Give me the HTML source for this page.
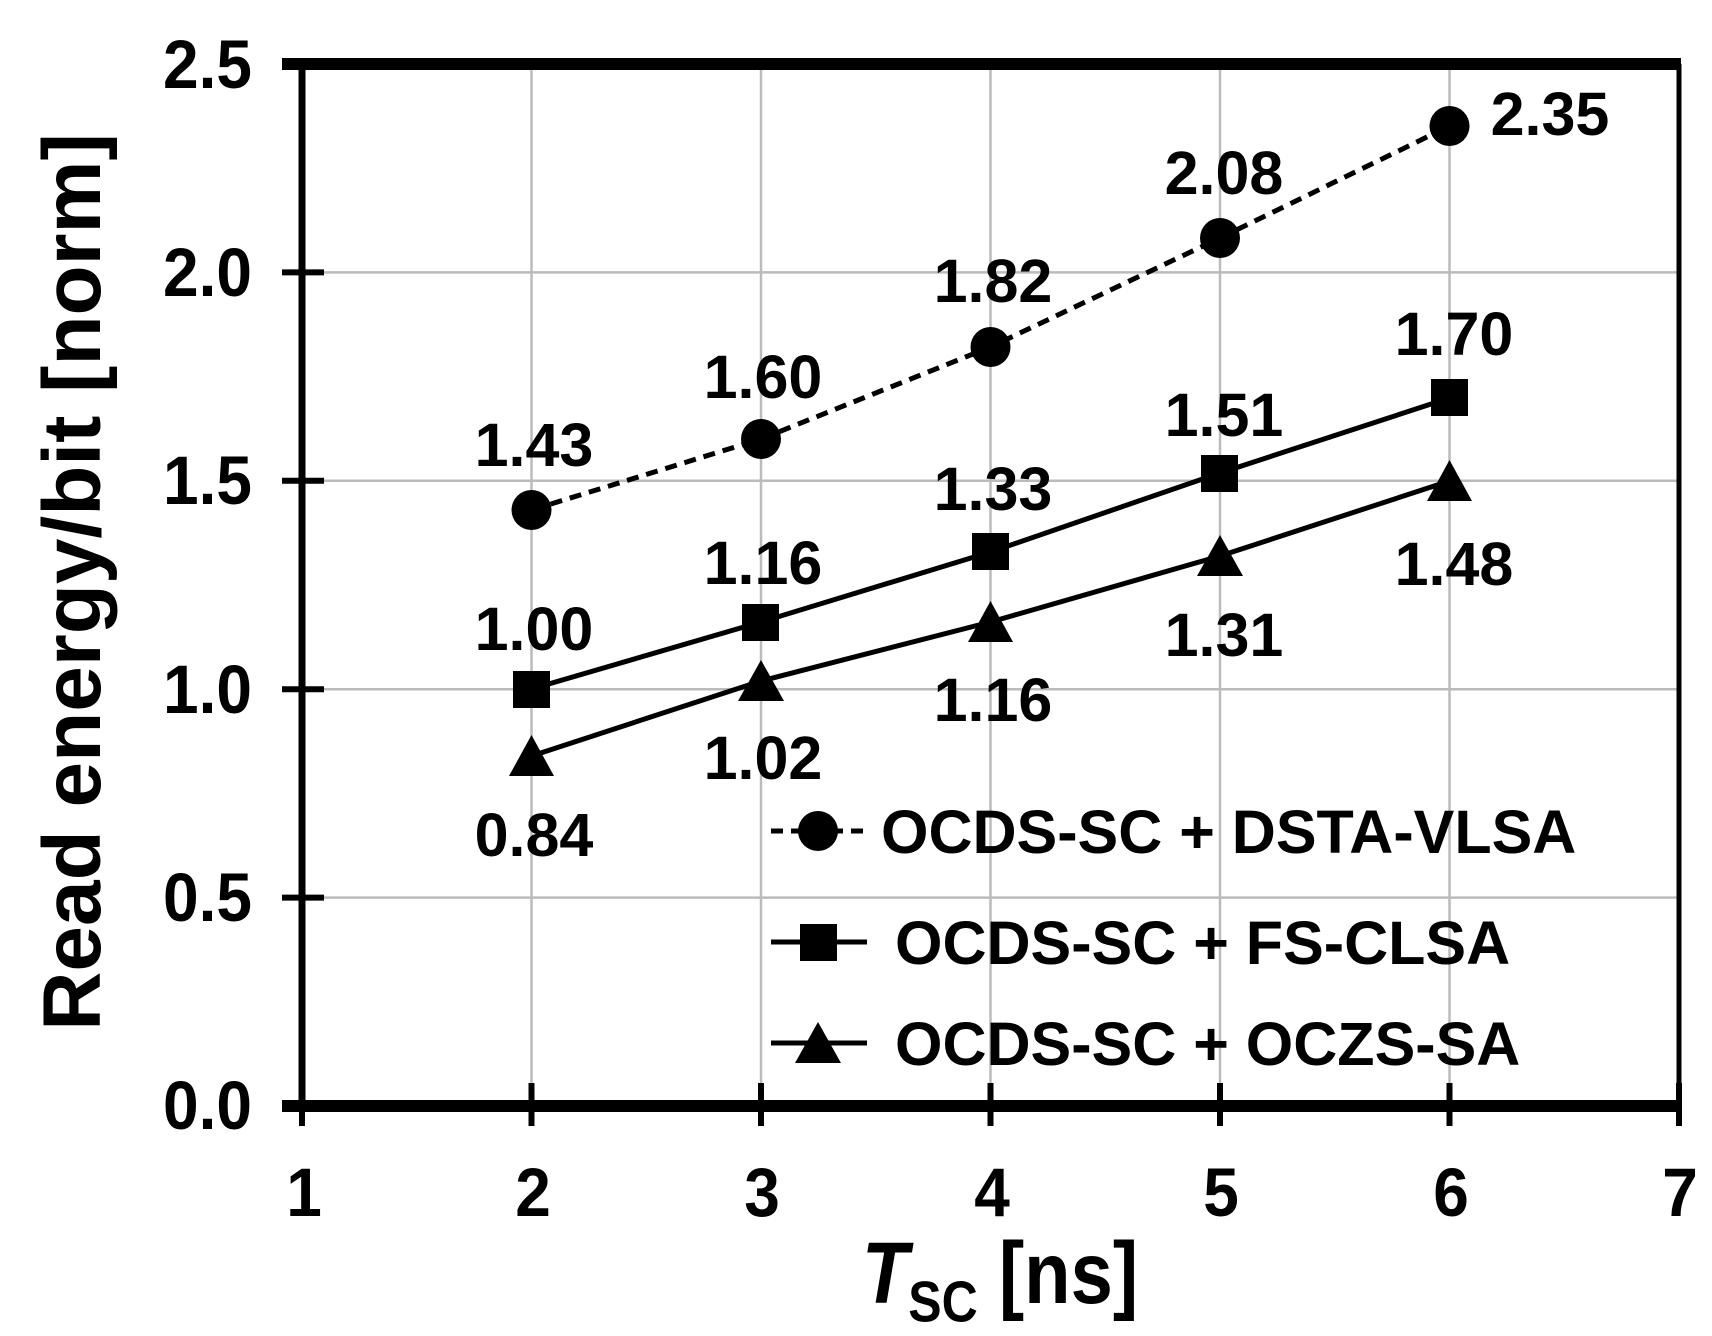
<!DOCTYPE html>
<html><head><style>body{margin:0;background:#fff}svg{display:block}text{font-family:"Liberation Sans",Arial,sans-serif;font-weight:bold;fill:#000}</style></head>
<body>
<svg width="1712" height="1336" viewBox="0 0 1712 1336" xmlns="http://www.w3.org/2000/svg">
<g stroke="#bbb" stroke-width="2.5">
<line x1="531.5" y1="64" x2="531.5" y2="1106"/><line x1="761" y1="64" x2="761" y2="1106"/><line x1="990.5" y1="64" x2="990.5" y2="1106"/><line x1="1220" y1="64" x2="1220" y2="1106"/><line x1="1449.5" y1="64" x2="1449.5" y2="1106"/>
<line x1="302" y1="272.4" x2="1679" y2="272.4"/><line x1="302" y1="480.8" x2="1679" y2="480.8"/><line x1="302" y1="689.2" x2="1679" y2="689.2"/><line x1="302" y1="897.6" x2="1679" y2="897.6"/>
</g>
<g stroke="#000">
<line x1="302" y1="64" x2="302" y2="1106" stroke-width="7"/>
<line x1="1679" y1="64" x2="1679" y2="1106" stroke-width="5"/>
<line x1="282" y1="64" x2="1681" y2="64" stroke-width="12"/>
<line x1="282" y1="1106" x2="1681" y2="1106" stroke-width="12"/>
<g stroke-width="6">
<line x1="282" y1="272.4" x2="324" y2="272.4"/><line x1="282" y1="480.8" x2="324" y2="480.8"/><line x1="282" y1="689.2" x2="324" y2="689.2"/><line x1="282" y1="897.6" x2="324" y2="897.6"/>
<line x1="302" y1="1083" x2="302" y2="1126"/><line x1="531.5" y1="1083" x2="531.5" y2="1126"/><line x1="761" y1="1083" x2="761" y2="1126"/><line x1="990.5" y1="1083" x2="990.5" y2="1126"/><line x1="1220" y1="1083" x2="1220" y2="1126"/><line x1="1449.5" y1="1083" x2="1449.5" y2="1126"/><line x1="1679" y1="1083" x2="1679" y2="1126"/>
</g>
</g>
<g font-size="64" text-anchor="end">
<text transform="translate(252,88) scale(1,1.08)">2.5</text><text transform="translate(252,296) scale(1,1.08)">2.0</text><text transform="translate(252,504) scale(1,1.08)">1.5</text><text transform="translate(252,713) scale(1,1.08)">1.0</text><text transform="translate(252,921) scale(1,1.08)">0.5</text><text transform="translate(252,1129) scale(1,1.08)">0.0</text>
</g>
<g font-size="64" text-anchor="middle">
<text transform="translate(304,1216) scale(1,1.08)">1</text><text transform="translate(533,1216) scale(1,1.08)">2</text><text transform="translate(762,1216) scale(1,1.08)">3</text><text transform="translate(992,1216) scale(1,1.08)">4</text><text transform="translate(1221,1216) scale(1,1.08)">5</text><text transform="translate(1451,1216) scale(1,1.08)">6</text><text transform="translate(1680,1216) scale(1,1.08)">7</text>
</g>
<text transform="translate(1000,1303) scale(1,1.15)" font-size="76" text-anchor="middle"><tspan font-style="italic">T</tspan><tspan font-size="50" dy="16">SC</tspan><tspan dy="-16"> [ns]</tspan></text>
<text transform="translate(100,582) rotate(-90)" font-size="82" text-anchor="middle">Read energy/bit [norm]</text>
<g stroke="#000" stroke-width="5" fill="none">
<polyline points="531.5,510 761,439 990.5,347 1220,238 1449.5,126" stroke-dasharray="12,8"/>
<polyline points="531.5,689 761,622 990.5,552 1220,473 1449.5,398"/>
<polyline points="531.5,756 761,681 990.5,622 1220,556 1449.5,481"/>
</g>
<g fill="#000">
<circle cx="531.5" cy="510" r="20"/><circle cx="761" cy="439" r="20"/><circle cx="990.5" cy="347" r="20"/><circle cx="1220" cy="238" r="20"/><circle cx="1449.5" cy="126" r="20"/>
<rect x="513" y="671" width="37" height="37"/><rect x="742" y="604" width="37" height="37"/><rect x="972" y="533" width="37" height="37"/><rect x="1201" y="455" width="37" height="37"/><rect x="1431" y="379" width="37" height="37"/>
<polygon points="531.5,735 554,776 509,776"/><polygon points="761,660 784,701 738,701"/><polygon points="990.5,601 1013,642 968,642"/><polygon points="1220,535 1243,576 1197,576"/><polygon points="1449.5,460 1472,501 1427,501"/>
</g>
<g font-size="61" text-anchor="middle">
<text x="534" y="466">1.43</text><text x="763" y="398">1.60</text><text x="993" y="302">1.82</text><text x="1224" y="194">2.08</text><text x="1550" y="135">2.35</text>
<text x="534" y="650">1.00</text><text x="763" y="584">1.16</text><text x="993" y="510">1.33</text><text x="1224" y="436">1.51</text><text x="1454" y="355">1.70</text>
<text x="534" y="856">0.84</text><text x="763" y="779">1.02</text><text x="993" y="721">1.16</text><text x="1224" y="656">1.31</text><text x="1454" y="585">1.48</text>
</g>
<g stroke="#000" stroke-width="5">
<line x1="771" y1="831" x2="867" y2="831" stroke-dasharray="12,8"/>
<line x1="771" y1="942" x2="867" y2="942"/>
<line x1="771" y1="1043" x2="867" y2="1043"/>
</g>
<circle cx="818" cy="831" r="20" fill="#000"/>
<rect x="800" y="924" width="37" height="37" fill="#000"/>
<polygon points="818,1022 841,1063 795,1063" fill="#000"/>
<g font-size="61">
<text x="881" y="853">OCDS-SC + DSTA-VLSA</text>
<text x="895" y="964">OCDS-SC + FS-CLSA</text>
<text x="895" y="1065">OCDS-SC + OCZS-SA</text>
</g>
</svg>
</body></html>
